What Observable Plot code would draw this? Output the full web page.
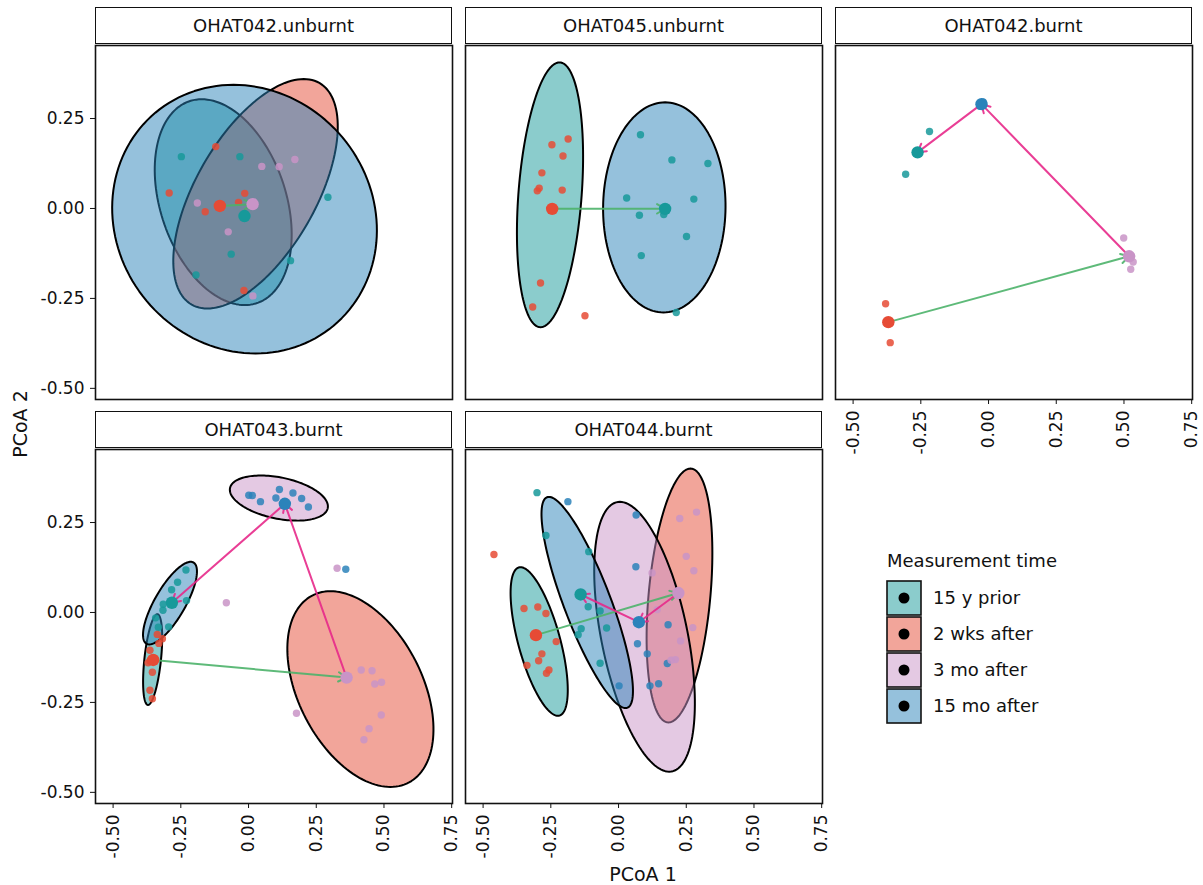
<!DOCTYPE html>
<html><head><meta charset="utf-8">
<script src="https://cdn.jsdelivr.net/npm/d3@7"></script>
<script src="https://cdn.jsdelivr.net/npm/@observablehq/plot@0.6"></script>
<style>
body{margin:0;background:#fff;}
#root{position:relative;width:1203px;height:885px;overflow:hidden;font-family:"DejaVu Sans",sans-serif;}
.strip{position:absolute;box-sizing:border-box;border:1.6px solid #111;background:#fff;display:flex;align-items:center;justify-content:center;font-size:18px;color:#111;}
.panel{position:absolute;}
.panel svg{overflow:visible;}
#overlay{position:absolute;left:0;top:0;}
</style></head>
<body><div id="root"></div>
<script>
// ---------- categories ----------
const panels = ["OHAT042.unburnt","OHAT045.unburnt","OHAT042.burnt","OHAT043.burnt","OHAT044.burnt"];
const groups = ["15 y prior","2 wks after","3 mo after","15 mo after"];
const groupColors = ["#17999a","#e64b35","#c994c7","#2b83ba"];
const arrowKinds = ["green","pink"];
const arrowColors = ["#4cb26a","#e7298a"];
const xTicks = [-0.5,-0.25,0,0.25,0.5,0.75];
const yTicks = [-0.5,-0.25,0,0.25];
const [P1,P2,P3,P4,P5] = panels;
const [G0,G1,G2,G3] = groups;

// ---------- sample points: [panel, group, PCoA1, PCoA2] ----------
const points = [
[P1,G0,-0.248,0.144],[P1,G0,-0.032,0.144],[P1,G0,0.293,0.031],[P1,G0,0.155,-0.145],[P1,G0,-0.064,-0.127],[P1,G0,-0.194,-0.185],
[P1,G1,-0.121,0.172],[P1,G1,-0.293,0.043],[P1,G1,-0.014,0.042],[P1,G1,-0.037,0.017],[P1,G1,-0.160,-0.009],[P1,G1,-0.017,-0.228],
[P1,G2,0.049,0.117],[P1,G2,0.113,0.116],[P1,G2,0.171,0.136],[P1,G2,-0.189,0.015],[P1,G2,-0.075,-0.065],[P1,G2,0.016,-0.243],

[P2,G1,-0.246,0.177],[P2,G1,-0.186,0.193],[P2,G1,-0.205,0.146],[P2,G1,-0.283,0.099],[P2,G1,-0.293,0.056],[P2,G1,-0.300,0.049],
[P2,G1,-0.208,0.051],[P2,G1,-0.288,-0.207],[P2,G1,-0.317,-0.274],[P2,G1,-0.124,-0.298],
[P2,G0,0.081,0.205],[P2,G0,0.197,0.135],[P2,G0,0.330,0.125],[P2,G0,0.030,0.029],[P2,G0,0.278,0.026],[P2,G0,0.077,-0.019],
[P2,G0,0.167,-0.017],[P2,G0,0.251,-0.078],[P2,G0,0.084,-0.131],[P2,G0,0.213,-0.289],

[P3,G0,-0.218,0.214],[P3,G0,-0.306,0.095],
[P3,G1,-0.380,-0.265],[P3,G1,-0.363,-0.373],
[P3,G2,0.499,-0.082],[P3,G2,0.534,-0.149],[P3,G2,0.525,-0.169],
[P3,G3,-0.020,0.296],[P3,G3,-0.032,0.284],

[P4,G3,0.001,0.326],[P4,G3,0.014,0.325],[P4,G3,0.044,0.308],[P4,G3,0.101,0.318],[P4,G3,0.114,0.342],
[P4,G3,0.164,0.332],[P4,G3,0.196,0.317],[P4,G3,0.221,0.293],[P4,G3,0.359,0.120],
[P4,G0,-0.231,0.118],[P4,G0,-0.262,0.084],[P4,G0,-0.284,0.063],[P4,G0,-0.315,0.023],[P4,G0,-0.316,0.006],
[P4,G0,-0.229,0.033],[P4,G0,-0.343,-0.015],[P4,G0,-0.333,-0.041],[P4,G0,-0.295,-0.040],
[P4,G1,-0.337,-0.061],[P4,G1,-0.318,-0.073],[P4,G1,-0.331,-0.086],[P4,G1,-0.364,-0.105],[P4,G1,-0.364,-0.135],
[P4,G1,-0.371,-0.140],[P4,G1,-0.355,-0.166],[P4,G1,-0.364,-0.216],[P4,G1,-0.355,-0.240],
[P4,G2,0.327,0.123],[P4,G2,-0.082,0.027],[P4,G2,0.416,-0.160],[P4,G2,0.456,-0.162],[P4,G2,0.466,-0.199],
[P4,G2,0.491,-0.194],[P4,G2,0.490,-0.285],[P4,G2,0.445,-0.323],[P4,G2,0.426,-0.354],[P4,G2,0.177,-0.280],

[P5,G1,-0.460,0.161],[P5,G1,-0.349,0.011],[P5,G1,-0.298,0.015],[P5,G1,-0.268,-0.003],[P5,G1,-0.230,-0.081],
[P5,G1,-0.283,-0.115],[P5,G1,-0.295,-0.134],[P5,G1,-0.338,-0.147],[P5,G1,-0.257,-0.160],[P5,G1,-0.266,-0.169],
[P5,G0,-0.301,0.333],[P5,G0,-0.268,0.214],[P5,G0,-0.110,0.169],[P5,G0,-0.112,0.016],[P5,G0,-0.068,0.004],
[P5,G0,-0.044,-0.043],[P5,G0,-0.138,-0.045],[P5,G0,-0.149,-0.062],[P5,G0,-0.068,-0.141],
[P5,G3,-0.187,0.308],[P5,G3,0.065,0.271],[P5,G3,0.064,0.127],[P5,G3,0.183,-0.034],[P5,G3,0.070,-0.087],
[P5,G3,0.106,-0.115],[P5,G3,0.180,-0.142],[P5,G3,0.002,-0.204],[P5,G3,0.116,-0.204],[P5,G3,0.148,-0.198],
[P5,G2,0.226,0.261],[P5,G2,0.288,0.279],[P5,G2,0.250,0.156],[P5,G2,0.278,0.116],[P5,G2,0.124,0.110],
[P5,G2,0.143,0.008],[P5,G2,0.274,-0.042],[P5,G2,0.229,-0.079],[P5,G2,0.210,-0.131],[P5,G2,0.194,-0.133]
];

// ---------- group centroids: [panel, group, PCoA1, PCoA2] ----------
const centroids = [
[P1,G0,-0.015,-0.021],[P1,G1,-0.106,0.007],[P1,G2,0.015,0.012],
[P2,G1,-0.245,-0.001],[P2,G0,0.172,-0.001],
[P3,G0,-0.262,0.156],[P3,G1,-0.370,-0.316],[P3,G2,0.519,-0.133],[P3,G3,-0.026,0.290],
[P4,G0,-0.283,0.027],[P4,G1,-0.352,-0.132],[P4,G2,0.362,-0.181],[P4,G3,0.134,0.302],
[P5,G0,-0.140,0.050],[P5,G1,-0.305,-0.063],[P5,G2,0.221,0.054],[P5,G3,0.075,-0.027]
];

// ---------- trajectories between centroids: [panel, kind, from, to] ----------
const arrows = [
[P1,"green",G1,G2],
[P2,"green",G1,G0],
[P3,"green",G1,G2],[P3,"pink",G2,G3],[P3,"pink",G3,G0],
[P4,"green",G1,G2],[P4,"pink",G2,G3],[P4,"pink",G3,G0],
[P5,"green",G1,G2],[P5,"pink",G2,G3],[P5,"pink",G3,G0]
];

// ---------- confidence ellipses: [panel, fill group, centre x, centre y, conjugate axis u (x,y), conjugate axis v (x,y)] ----------
const ellipses = [
[P1,G0,-0.0935,0.0176,-0.0795,0.286,0.240,0],
[P1,G1,0.0258,0.0408,0.178,0.319,0.246,0],
[P1,G3,-0.0148,-0.0297,-0.0406,0.3733,0.487,0],
[P2,G0,-0.253,0.038,0.035,0.368,0.117,0],
[P2,G3,0.169,0.003,0.003,0.292,0.226,0],
[P4,G0,-0.354,-0.131,0.0172,0.126,0.0308,0],
[P4,G1,0.413,-0.213,-0.1107,0.272,0.246,0],
[P4,G2,0.112,0.318,0.181,-0.0231,0,0.0583],
[P4,G3,-0.290,0.026,0.0763,0.1148,0.064,0],
[P5,G0,-0.293,-0.0806,-0.0689,0.2065,0.080,0],
[P5,G1,0.225,0.0472,0.0406,0.3528,0.1144,0],
[P5,G2,0.096,-0.0675,-0.0910,0.375,0.162,0],
[P5,G3,-0.1156,0.0278,-0.1414,0.2935,0.0923,0]
];

// ---------- layout ----------
const colorOf = g => groupColors[groups.indexOf(g)];
const xDomain = [-0.565, 0.753], yDomain = [-0.531, 0.453];
const PW = 357, PH = 354, mL = 70, mR = 14, mT = 10, mB = 70;
const colLeft = [95, 465, 835], rowTop = [45, 449];
const panelPos = [[0,0],[1,0],[2,0],[0,1],[1,1]];
const xAxisPanels = [P3,P4,P5], yAxisPanels = [P1,P4];
const fmt = d => d.toFixed(2);
const root = document.getElementById("root");

panels.forEach((name, i) => {
  const [c, r] = panelPos[i];
  const strip = document.createElement("div");
  strip.className = "strip";
  strip.textContent = name;
  Object.assign(strip.style, {left: colLeft[c] + "px", top: (rowTop[r] - 38) + "px", width: PW + "px", height: "37px"});
  root.appendChild(strip);

  const marks = [];
  ellipses.filter(e => e[0] === name).forEach(e => {
    const [, g, cx, cy, ux, uy, vx, vy] = e;
    const pts = d3.range(144).map(k => {
      const t = 2 * Math.PI * k / 144;
      return {x: cx + ux * Math.cos(t) + vx * Math.sin(t), y: cy + uy * Math.cos(t) + vy * Math.sin(t)};
    });
    marks.push(Plot.line(pts, {x: "x", y: "y", curve: "linear-closed", fill: colorOf(g), fillOpacity: 0.5, stroke: "#000", strokeWidth: 2}));
  });
  const pts = points.filter(p => p[0] === name);
  marks.push(Plot.dot(pts, {x: d => d[2], y: d => d[3], r: 3.7, fill: d => colorOf(d[1]), fillOpacity: 0.85, stroke: null}));
  const cents = centroids.filter(p => p[0] === name);
  const cen = (g) => cents.find(p => p[1] === g);
  const arr = arrows.filter(a => a[0] === name).map(a => ({kind: a[1], from: cen(a[2]), to: cen(a[3])}));
  marks.push(Plot.arrow(arr, {x1: d => d.from[2], y1: d => d.from[3], x2: d => d.to[2], y2: d => d.to[3],
    stroke: d => arrowColors[arrowKinds.indexOf(d.kind)], strokeWidth: 2, headLength: 7, strokeOpacity: 0.9}));
  marks.push(Plot.dot(cents, {x: d => d[2], y: d => d[3], r: 6.2, fill: d => colorOf(d[1]), stroke: null}));
  if (yAxisPanels.includes(name)) marks.push(Plot.axisY({ticks: yTicks, tickFormat: fmt, tickSize: 5, tickPadding: 6, label: null}));
  if (xAxisPanels.includes(name)) marks.push(Plot.axisX({ticks: xTicks, tickFormat: fmt, tickSize: 5, tickPadding: 6, tickRotate: -90, label: null}));
  marks.push(Plot.frame({stroke: "#111", strokeWidth: 1.6}));

  const chart = Plot.plot({
    width: PW + mL + mR, height: PH + mT + mB,
    marginLeft: mL, marginRight: mR, marginTop: mT, marginBottom: mB,
    x: {domain: xDomain, axis: xAxisPanels.includes(name) ? undefined : null},
    y: {domain: yDomain, axis: yAxisPanels.includes(name) ? undefined : null},
    style: {fontFamily: "DejaVu Sans", fontSize: "17px", overflow: "visible", background: "transparent", color: "#111"},
    marks
  });
  const div = document.createElement("div");
  div.className = "panel";
  Object.assign(div.style, {left: (colLeft[c] - mL) + "px", top: (rowTop[r] - mT) + "px", width: (PW + mL + mR) + "px"});
  div.appendChild(chart);
  root.appendChild(div);
});

// ---------- axis titles and legend ----------
const svg = d3.select(root).append("svg").attr("id", "overlay").attr("width", 1203).attr("height", 885)
  .style("font-family", "DejaVu Sans").style("pointer-events", "none");
svg.append("text").attr("x", 643).attr("y", 881).attr("text-anchor", "middle").attr("font-size", 19).attr("fill", "#111").text("PCoA 1");
svg.append("text").attr("transform", "translate(27,424) rotate(-90)").attr("text-anchor", "middle").attr("font-size", 19).attr("fill", "#111").text("PCoA 2");
const leg = svg.append("g");
leg.append("text").attr("x", 887).attr("y", 567).attr("font-size", 18).attr("fill", "#111").text("Measurement time");
groups.forEach((g, i) => {
  const y = 581 + i * 36;
  leg.append("rect").attr("x", 887).attr("y", y).attr("width", 34).attr("height", 34)
    .attr("fill", colorOf(g)).attr("fill-opacity", 0.5).attr("stroke", "#111").attr("stroke-width", 1.6);
  leg.append("circle").attr("cx", 904).attr("cy", y + 17).attr("r", 5.5).attr("fill", "#000");
  leg.append("text").attr("x", 933).attr("y", y + 17).attr("dy", "0.36em").attr("font-size", 18).attr("fill", "#111").text(g);
});
</script>
</body></html>
